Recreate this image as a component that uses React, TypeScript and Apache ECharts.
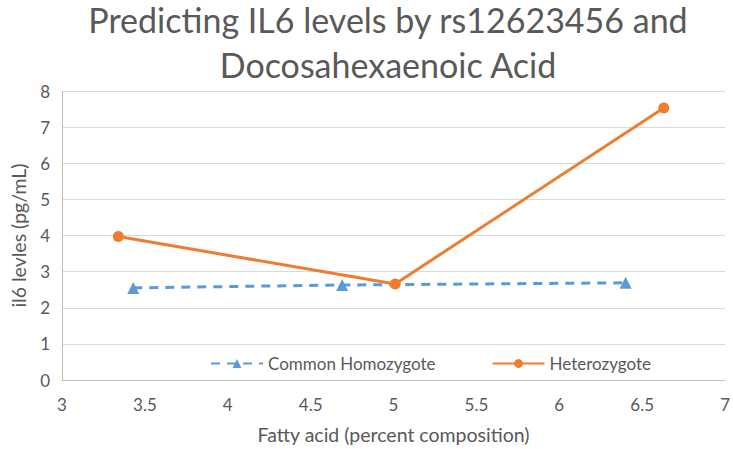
import React, { useEffect, useRef } from "react";
import * as echarts from "echarts";

const titleLines = ["Predicting IL6 levels by rs12623456 and", "Docosahexaenoic Acid"];
const xAxisName = "Fatty acid (percent composition)";
const yAxisName = "il6 levles (pg/mL)";

const homozygoteX = [3.43, 4.69, 6.4];
const homozygoteY = [2.55, 2.63, 2.69];
const heterozygoteX = [3.34, 5.01, 6.63];
const heterozygoteY = [3.97, 2.66, 7.53];

const FONT = "Lato, 'Open Sans', sans-serif";
const GREY = "#595959";

export default function App() {
  const ref = useRef<HTMLDivElement>(null);
  useEffect(() => {
    if (!ref.current) return;
    const chart = echarts.init(ref.current, undefined, { renderer: "svg" });
    chart.setOption({
      animation: false,
      backgroundColor: "#ffffff",
      textStyle: { fontFamily: FONT },
      title: {
        text: titleLines.join("\n"),
        left: 383,
        textAlign: "center",
        top: -8,
        textStyle: {
          fontFamily: FONT,
          fontSize: 34,
          fontWeight: "normal",
          color: GREY,
          lineHeight: 45,
        },
      },
      legend: {
        left: 205,
        top: 350,
        itemWidth: 52,
        itemHeight: 11,
        itemGap: 56,
        textStyle: { fontFamily: FONT, fontSize: 17, color: GREY },
        data: ["Common Homozygote", "Heterozygote"],
      },
      grid: { left: 61, right: 7, top: 91, bottom: 69 },
      xAxis: {
        type: "value",
        min: 3,
        max: 7,
        interval: 0.5,
        name: xAxisName,
        nameLocation: "middle",
        nameGap: 44,
        nameTextStyle: { fontFamily: FONT, fontSize: 19.5, color: GREY },
        axisLine: { show: true, lineStyle: { color: "#bfbfbf", width: 1 } },
        axisTick: { show: false },
        splitLine: { show: false },
        axisLabel: { fontFamily: FONT, fontSize: 17, color: GREY, margin: 16 },
      },
      yAxis: {
        type: "value",
        min: 0,
        max: 8,
        interval: 1,
        name: yAxisName,
        nameLocation: "middle",
        nameGap: 34,
        nameTextStyle: { fontFamily: FONT, fontSize: 19.5, color: GREY },
        axisLine: { show: true, lineStyle: { color: "#bfbfbf", width: 1 } },
        axisTick: { show: false },
        splitLine: { show: true, lineStyle: { color: "#d9d9d9", width: 1 } },
        axisLabel: { fontFamily: FONT, fontSize: 17, color: GREY, margin: 12 },
      },
      series: [
        {
          name: "Common Homozygote",
          type: "line",
          data: homozygoteX.map((x, i) => [x, homozygoteY[i]]),
          symbol: "triangle",
          symbolSize: 12,
          itemStyle: { color: "#5b9bd5" },
          lineStyle: { color: "#5b9bd5", width: 3, type: [9, 7] },
        },
        {
          name: "Heterozygote",
          type: "line",
          data: heterozygoteX.map((x, i) => [x, heterozygoteY[i]]),
          symbol: "circle",
          symbolSize: 11,
          itemStyle: { color: "#ed7d31" },
          lineStyle: { color: "#ed7d31", width: 3 },
        },
      ],
    });
    return () => chart.dispose();
  }, []);
  return <div ref={ref} style={{ width: 733, height: 449, position: "absolute", left: 0, top: 0 }} />;
}
